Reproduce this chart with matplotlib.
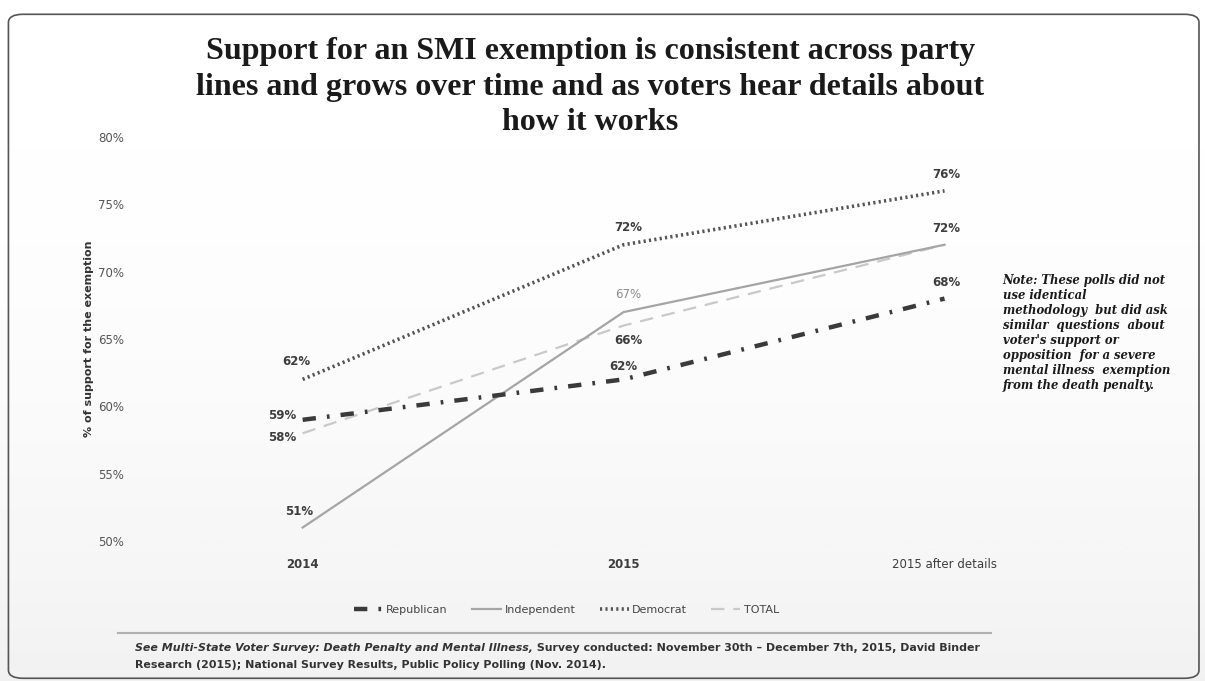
import numpy as np
import matplotlib
matplotlib.use("Agg")
import matplotlib.pyplot as plt
from matplotlib.patches import FancyBboxPatch

# data
periods = ["2014", "2015", "2015 after details"]
republican = [59, 62, 68]
independent = [51, 67, 72]
democrat = [62, 72, 76]
total = [58, 66, 72]
yticks = [50, 55, 60, 65, 70, 75, 80]

title = ("Support for an SMI exemption is consistent across party\n"
         "lines and grows over time and as voters hear details about\n"
         "how it works")
note = ("Note: These polls did not\nuse identical\nmethodology  but did ask\n"
        "similar  questions  about\nvoter's support or\nopposition  for a severe\n"
        "mental illness  exemption\nfrom the death penalty.")

fig = plt.figure(figsize=(12.05, 6.81), dpi=100)
fig.patch.set_facecolor("white")

# faint grey wash toward the bottom, like the scanned slide
bg = fig.add_axes([0, 0, 1, 1], zorder=-10)
grad = np.linspace(0, 1, 256)[:, None] ** 2.2
bg.imshow(grad, aspect="auto", cmap="Greys", vmin=0, vmax=9,
          extent=[0, 1, 0, 1], origin="upper")
bg.set_axis_off()
bg.add_patch(FancyBboxPatch((0.007, 0.004), 0.988, 0.975,
                            boxstyle="round,pad=0,rounding_size=0.012",
                            transform=bg.transAxes, fill=False,
                            edgecolor="#555555", lw=1.2))

ax = fig.add_axes([0.118, 0.2056, 0.799, 0.5932])
ax.set_facecolor("none")
x = np.arange(len(periods))

ax.plot(x, total, color="#c9c9c9", lw=1.6, ls=(0, (6, 4)), label="TOTAL", zorder=2)
ax.plot(x, independent, color="#a5a5a5", lw=1.6, ls="-", label="Independent", zorder=3)
ax.plot(x, democrat, color="#555555", lw=2.6, ls=(0, (0.6, 0.9)), label="Democrat", zorder=4)
ax.plot(x, republican, color="#3a3a3a", lw=3.2, ls=(0, (3, 2.5, 0.6, 2.5)),
        label="Republican", zorder=5)

lab = dict(textcoords="offset pixels", fontsize=8.5, fontweight="bold",
           color="#3d3d3d", ha="center", va="center")
ax.annotate(f"{democrat[0]}%", (x[0], democrat[0]), xytext=(-6, 18), **lab)
ax.annotate(f"{republican[0]}%", (x[0], republican[0]), xytext=(-20, 4), **lab)
ax.annotate(f"{total[0]}%", (x[0], total[0]), xytext=(-20, -4), **lab)
ax.annotate(f"{independent[0]}%", (x[0], independent[0]), xytext=(-4, 16), **lab)

ax.annotate(f"{democrat[1]}%", (x[1], democrat[1]), xytext=(5, 17), **lab)
ax.annotate(f"{independent[1]}%", (x[1], independent[1]), xytext=(5, 18),
            **{**lab, "color": "#8a8a8a", "fontweight": "normal"})
ax.annotate(f"{total[1]}%", (x[1], total[1]), xytext=(5, -15), **lab)
ax.annotate(f"{republican[1]}%", (x[1], republican[1]), xytext=(0, 13), **lab)

ax.annotate(f"{democrat[2]}%", (x[2], democrat[2]), xytext=(2, 16), **lab)
ax.annotate(f"{total[2]}%", (x[2], total[2]), xytext=(2, 16), **lab)
ax.annotate(f"{republican[2]}%", (x[2], republican[2]), xytext=(2, 16), **lab)

ax.set_xlim(-0.5, 2.5)
ax.set_ylim(50, 80)
ax.set_yticks(yticks)
ax.set_yticklabels([f"{v}%" for v in yticks], fontsize=8.5, color="#555555")
ax.set_xticks(x)
ax.set_xticklabels(periods, fontsize=8.5, color="#3d3d3d")
for t in ax.get_xticklabels()[:2]:
    t.set_fontweight("bold")
ax.tick_params(axis="y", length=0, pad=13)
ax.tick_params(axis="x", length=0, pad=12)
for s in ax.spines.values():
    s.set_visible(False)
ax.set_ylabel("% of support for the exemption", fontsize=8, fontweight="bold",
              color="#333333", labelpad=3)

leg = fig.legend(handles=[ax.lines[3], ax.lines[1], ax.lines[2], ax.lines[0]],
                 loc="center", bbox_to_anchor=(0.47, 0.104), ncol=4, frameon=False,
                 fontsize=8, handlelength=2.6, columnspacing=2.2, handletextpad=0.3)
for t in leg.get_texts():
    t.set_color("#444444")

fig.text(0.49, 0.872, title, ha="center", va="center", fontsize=23,
         fontweight="bold", family="Liberation Serif", color="#1a1a1a",
         linespacing=1.3)

fig.text(0.832, 0.598, note, ha="left", va="top", fontsize=8.4, style="italic",
         fontweight="bold", family="DejaVu Serif", color="#1a1a1a",
         linespacing=1.2)

# source line
fig.add_artist(plt.Line2D([0.098, 0.822], [0.071, 0.071], color="#b0b0b0", lw=1.5))
src1 = fig.text(0.112, 0.048, "See Multi-State Voter Survey: Death Penalty and Mental Illness,",
                fontsize=7.9, style="italic", fontweight="bold", color="#333333",
                va="center")
plt.annotate(" Survey conducted: November 30th \u2013 December 7th, 2015, David Binder",
             xy=(1, 0.5), xycoords=src1, va="center", fontsize=7.9,
             fontweight="bold", color="#333333")
fig.text(0.112, 0.023, "Research (2015); National Survey Results, Public Policy Polling (Nov. 2014).",
         fontsize=7.9, fontweight="bold", color="#333333", va="center")

fig.savefig("out.png", dpi=100)
